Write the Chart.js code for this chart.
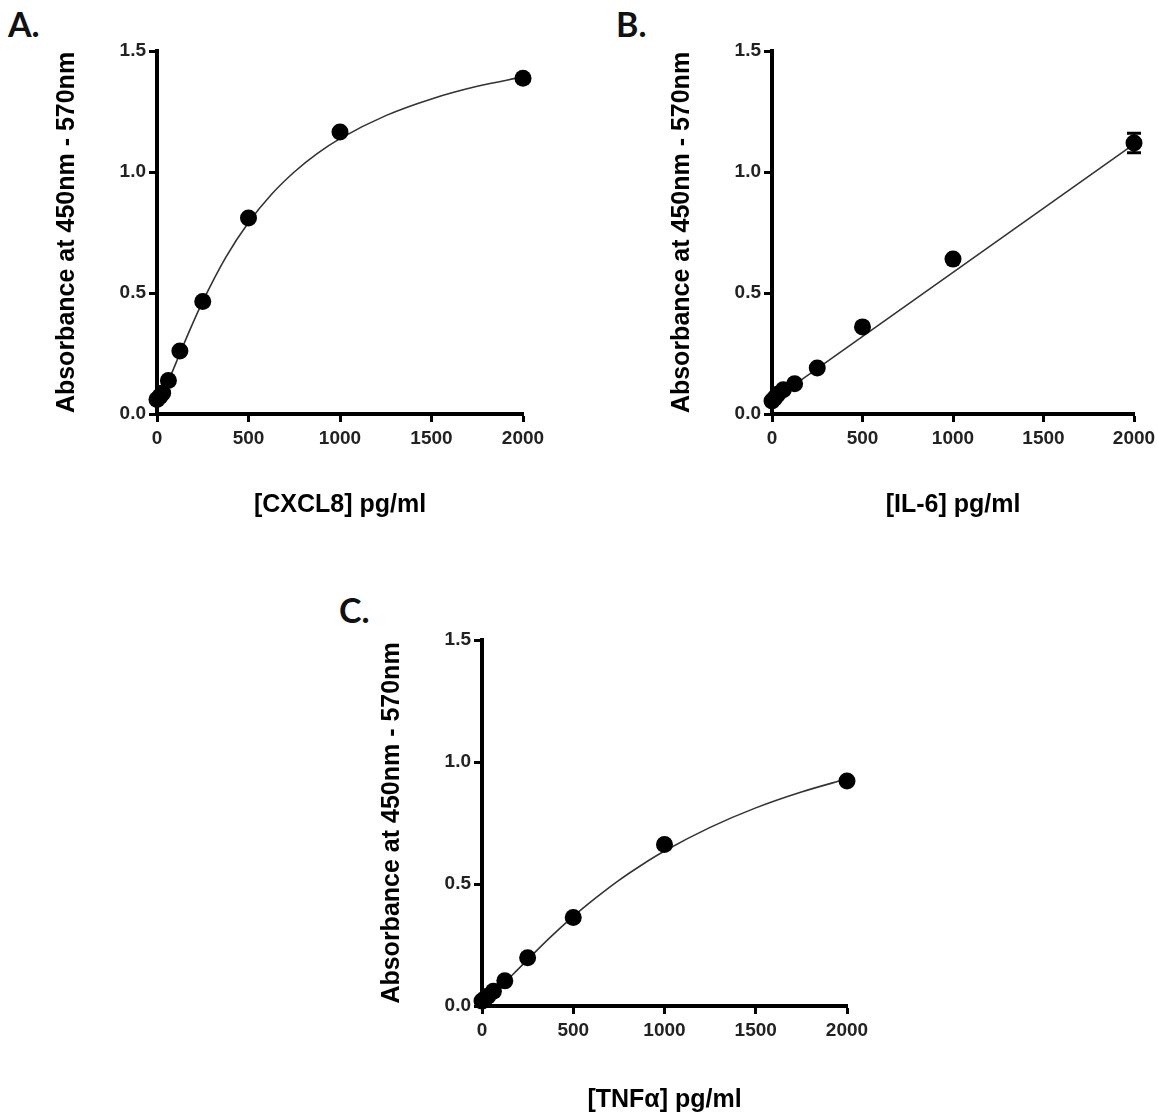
<!DOCTYPE html>
<html>
<head>
<meta charset="utf-8">
<script src="https://cdn.jsdelivr.net/npm/chart.js@4.4.1/dist/chart.umd.min.js"></script>
<style>
  html, body { margin: 0; padding: 0; background: #fff; }
  body { width: 1157px; height: 1117px; position: relative; overflow: hidden; }
  canvas { position: absolute; }
  .lbl { position: absolute; font-family: Lato, "Open Sans", sans-serif; font-weight: bold; font-size: 34px; line-height: 34px; color: #111; }
</style>
</head>
<body>
<div class="lbl" style="left:8px; top:7px;">A.</div>
<div class="lbl" style="left:616px; top:7px;">B.</div>
<div class="lbl" style="left:339px; top:593px;">C.</div>
<canvas id="cA" width="553" height="540" style="left:0px; top:0px;"></canvas>
<canvas id="cB" width="549" height="540" style="left:615px; top:0px;"></canvas>
<canvas id="cC" width="552" height="545" style="left:325px; top:589px;"></canvas>
<script>
// ---- data ----
const concentrations = [0, 15.6, 31.25, 62.5, 125, 250, 500, 1000, 2000];
const cxcl8Abs = [0.06, 0.072, 0.087, 0.138, 0.26, 0.465, 0.81, 1.165, 1.387];
const il6Abs   = [0.054, 0.066, 0.082, 0.10, 0.125, 0.19, 0.36, 0.64, 1.12];
const il6Err   = [0, 0, 0, 0, 0, 0, 0, 0, 0.04];
const tnfAbs   = [0.02, 0.03, 0.04, 0.06, 0.103, 0.198, 0.363, 0.662, 0.922];

// fitted curves at these concentrations
const fitX     = [0, 62.5, 125, 187.5, 250, 375, 500, 625, 750, 875, 1000, 1250, 1500, 1750, 2000];
const cxcl8Fit = [0.05, 0.138, 0.25, 0.361, 0.465, 0.646, 0.791, 0.907, 1.0, 1.076, 1.138, 1.233, 1.302, 1.354, 1.393];
const tnfFit   = [0.02, 0.054, 0.097, 0.143, 0.19, 0.282, 0.367, 0.444, 0.515, 0.578, 0.635, 0.732, 0.812, 0.877, 0.931];
const il6FitX  = [0, 2000];
const il6Fit   = [0.055, 1.115];

const yTicks = [0, 0.5, 1.0, 1.5];
const xTicks = [0, 500, 1000, 1500, 2000];
const yTitle = 'Absorbance at 450nm - 570nm';
const xTitles = ['[CXCL8] pg/ml', '[IL-6] pg/ml', '[TNF\u03b1] pg/ml'];

Chart.defaults.font.family = '"Liberation Sans", Arial, sans-serif';

const errorBarPlugin = {
  id: 'errorBars',
  afterDatasetsDraw(chart) {
    const errs = chart.options.plugins.errorBars && chart.options.plugins.errorBars.errors;
    if (!errs) return;
    const ctx = chart.ctx, xs = chart.scales.x, ys = chart.scales.y;
    const ds = chart.data.datasets[0].data;
    ctx.save();
    ctx.strokeStyle = '#000';
    ctx.lineWidth = 3;
    ds.forEach((p, i) => {
      const e = errs[i];
      if (!e) return;
      const px = xs.getPixelForValue(p.x);
      const y1 = ys.getPixelForValue(p.y - e), y2 = ys.getPixelForValue(p.y + e);
      ctx.beginPath();
      ctx.moveTo(px, y1); ctx.lineTo(px, y2);
      ctx.moveTo(px - 7, y1); ctx.lineTo(px + 7, y1);
      ctx.moveTo(px - 7, y2); ctx.lineTo(px + 7, y2);
      ctx.stroke();
    });
    ctx.restore();
  }
};

function makePanel(id, xs, ys, fxs, fys, errs, xTitle, plotBottom, canvasH, titleBottomPad, monotone) {
  const pts = xs.map((x, i) => ({x: x, y: ys[i]}));
  const fit = fxs.map((x, i) => ({x: x, y: fys[i]}));
  new Chart(document.getElementById(id), {
    type: 'scatter',
    data: {
      datasets: [
        { data: pts, pointRadius: 8.5, pointHoverRadius: 8.5, pointBackgroundColor: '#000', pointBorderColor: '#000', pointBorderWidth: 0, showLine: false, clip: false },
        { data: fit, showLine: true, pointRadius: 0, borderColor: '#333', borderWidth: 1.6, fill: false, cubicInterpolationMode: monotone ? 'monotone' : 'default', tension: 0, clip: false }
      ]
    },
    options: {
      responsive: false,
      animation: false,
      devicePixelRatio: 1,
      layout: { padding: { top: 51, right: 30, left: 0, bottom: 0 } },
      plugins: { legend: { display: false }, tooltip: { enabled: false }, errorBars: { errors: errs } },
      scales: {
        x: {
          type: 'linear', min: 0, max: 2000,
          afterBuildTicks: (s) => { s.ticks = xTicks.map(v => ({value: v})); },
          ticks: { color: '#222', font: { size: 19, weight: 'bold' }, padding: 5, maxRotation: 0, callback: (v) => String(v) },
          border: { display: true, color: '#000', width: 4 },
          grid: { drawOnChartArea: false, drawTicks: true, tickLength: 8, tickWidth: 3, tickColor: '#000' },
          title: { display: true, text: xTitle, color: '#000', font: { size: 25, weight: 'bold' }, padding: { top: 0, bottom: titleBottomPad } },
          afterFit: (s) => { s.height = canvasH - plotBottom; }
        },
        y: {
          type: 'linear', min: 0, max: 1.5,
          afterBuildTicks: (s) => { s.ticks = yTicks.map(v => ({value: v})); },
          ticks: { color: '#222', font: { size: 19, weight: 'bold' }, padding: 3, callback: (v) => Number(v).toFixed(1) },
          border: { display: true, color: '#000', width: 4 },
          grid: { drawOnChartArea: false, drawTicks: true, tickLength: 8, tickWidth: 3, tickColor: '#000' },
          title: { display: true, text: yTitle, color: '#000', font: { size: 25, weight: 'bold' }, padding: { top: 52, bottom: 0 } },
          afterFit: (s) => { s.width = 157; }
        }
      }
    },
    plugins: [errorBarPlugin]
  });
}

makePanel('cA', concentrations, cxcl8Abs, fitX, cxcl8Fit, null, xTitles[0], 414, 540, 20, true);
makePanel('cB', concentrations, il6Abs, il6FitX, il6Fit, il6Err, xTitles[1], 414, 540, 20, false);
makePanel('cC', concentrations, tnfAbs, fitX, tnfFit, null, xTitles[2], 417, 545, 19, true);
</script>
</body>
</html>
